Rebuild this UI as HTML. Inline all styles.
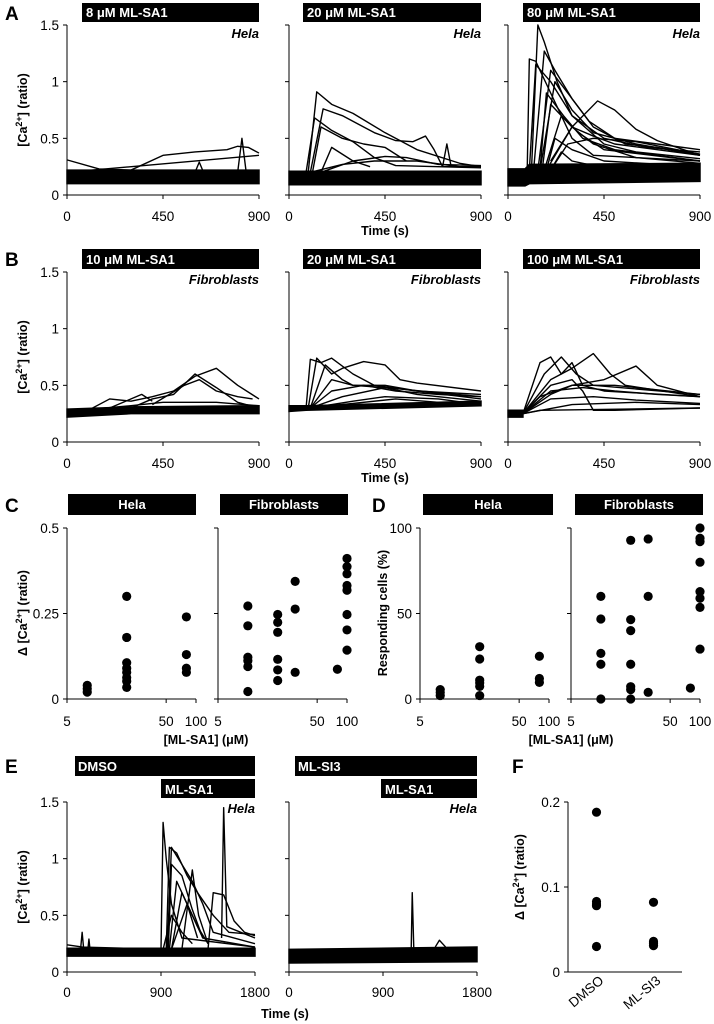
<!DOCTYPE html>
<html><head><meta charset="utf-8"><style>
html,body{margin:0;padding:0;background:#fff;}
svg{display:block;font-family:"Liberation Sans",sans-serif;}
.tk{font-size:13.5px;fill:#000;}
.bt{font-size:13px;font-weight:bold;fill:#fff;}
.it{font-size:13px;font-weight:bold;font-style:italic;fill:#000;}
.tt{font-size:12.5px;font-weight:bold;fill:#000;}
.lt{font-size:19px;font-weight:bold;fill:#000;}
</style></head><body>
<svg id="fig" width="714" height="1024" viewBox="0 0 714 1024" xmlns="http://www.w3.org/2000/svg">
<text class="lt" x="5" y="20">A</text>
<text class="lt" x="5" y="266">B</text>
<text class="lt" x="5" y="512">C</text>
<text class="lt" x="372" y="512">D</text>
<text class="lt" x="5" y="773">E</text>
<text class="lt" x="512" y="773">F</text>
<rect x="82" y="3" width="177" height="19" fill="#000"/>
<text class="bt" x="86" y="17">8 μM ML-SA1</text>
<rect x="303" y="3" width="178" height="19" fill="#000"/>
<text class="bt" x="307" y="17">20 μM ML-SA1</text>
<rect x="523" y="3" width="177" height="19" fill="#000"/>
<text class="bt" x="527" y="17">80 μM ML-SA1</text>
<text class="it" x="259" y="38" text-anchor="end">Hela</text>
<text class="it" x="481" y="38" text-anchor="end">Hela</text>
<text class="it" x="700" y="38" text-anchor="end">Hela</text>
<rect x="82" y="249" width="177" height="20" fill="#000"/>
<text class="bt" x="86" y="264">10 μM ML-SA1</text>
<rect x="303" y="249" width="178" height="20" fill="#000"/>
<text class="bt" x="307" y="264">20 μM ML-SA1</text>
<rect x="523" y="249" width="177" height="20" fill="#000"/>
<text class="bt" x="527" y="264">100 μM ML-SA1</text>
<text class="it" x="259" y="284" text-anchor="end">Fibroblasts</text>
<text class="it" x="481" y="284" text-anchor="end">Fibroblasts</text>
<text class="it" x="700" y="284" text-anchor="end">Fibroblasts</text>
<rect x="68" y="494" width="128" height="21" fill="#000"/>
<text class="bt" x="132" y="509" text-anchor="middle">Hela</text>
<rect x="220" y="494" width="128" height="21" fill="#000"/>
<text class="bt" x="284" y="509" text-anchor="middle">Fibroblasts</text>
<rect x="423" y="494" width="130" height="21" fill="#000"/>
<text class="bt" x="488" y="509" text-anchor="middle">Hela</text>
<rect x="575" y="494" width="128" height="21" fill="#000"/>
<text class="bt" x="639" y="509" text-anchor="middle">Fibroblasts</text>
<rect x="75" y="756" width="180" height="20" fill="#000"/>
<text class="bt" x="78" y="771">DMSO</text>
<rect x="161" y="779" width="94" height="19" fill="#000"/>
<text class="bt" x="165" y="794">ML-SA1</text>
<rect x="295" y="756" width="182" height="20" fill="#000"/>
<text class="bt" x="298" y="771">ML-SI3</text>
<rect x="381" y="779" width="96" height="19" fill="#000"/>
<text class="bt" x="385" y="794">ML-SA1</text>
<text class="it" x="255" y="813" text-anchor="end">Hela</text>
<text class="it" x="477" y="813" text-anchor="end">Hela</text>
<text class="tt" transform="translate(27,110) rotate(-90)" text-anchor="middle">[Ca<tspan font-size="9" dy="-5">2+</tspan><tspan dy="5">] (ratio)</tspan></text>
<text class="tt" transform="translate(27,357) rotate(-90)" text-anchor="middle">[Ca<tspan font-size="9" dy="-5">2+</tspan><tspan dy="5">] (ratio)</tspan></text>
<text class="tt" transform="translate(27,613) rotate(-90)" text-anchor="middle">Δ [Ca<tspan font-size="9" dy="-5">2+</tspan><tspan dy="5">] (ratio)</tspan></text>
<text class="tt" transform="translate(387,613) rotate(-90)" text-anchor="middle">Responding cells (%)</text>
<text class="tt" transform="translate(27,887) rotate(-90)" text-anchor="middle">[Ca<tspan font-size="9" dy="-5">2+</tspan><tspan dy="5">] (ratio)</tspan></text>
<text class="tt" transform="translate(524,877) rotate(-90)" text-anchor="middle">Δ [Ca<tspan font-size="9" dy="-5">2+</tspan><tspan dy="5">] (ratio)</tspan></text>
<text class="tt" x="385" y="235" text-anchor="middle">Time (s)</text>
<text class="tt" x="385" y="482" text-anchor="middle">Time (s)</text>
<text class="tt" x="206" y="744" text-anchor="middle">[ML-SA1] (μM)</text>
<text class="tt" x="571" y="744" text-anchor="middle">[ML-SA1] (μM)</text>
<text class="tt" x="285" y="1018" text-anchor="middle">Time (s)</text>
<g id="plots"></g>
</svg>
<script>
const bandA1 = {t:[0,900], lo:[0.10,0.10], hi:[0.22,0.22]};
const tracesA1 = [
 [[0,0.31],[150,0.23],[300,0.22],[450,0.35],[600,0.38],[750,0.40],[800,0.43],[850,0.42],[900,0.37]],
 [[0,0.2],[900,0.35]],
 [[800,0.2],[820,0.5],[840,0.2]],
 [[600,0.2],[620,0.29],[640,0.2]]
];
const bandA2 = {t:[0,900], lo:[0.09,0.09], hi:[0.21,0.21]};
const tracesA2 = [
 [[90,0.2],[130,0.91],[200,0.8],[300,0.72],[450,0.55],[600,0.4],[800,0.28],[900,0.25]],
 [[100,0.2],[160,0.76],[250,0.7],[400,0.55],[500,0.48],[580,0.47],[640,0.52],[680,0.4],[720,0.25],[900,0.25]],
 [[80,0.2],[120,0.68],[200,0.57],[300,0.47],[400,0.33],[500,0.26],[900,0.24]],
 [[110,0.2],[150,0.6],[250,0.5],[350,0.45],[450,0.42],[550,0.3]],
 [[150,0.2],[200,0.42],[300,0.3],[380,0.25]],
 [[150,0.2],[300,0.3],[450,0.34],[550,0.33],[700,0.27],[900,0.26]],
 [[100,0.2],[250,0.27],[400,0.3],[600,0.3],[800,0.25]],
 [[720,0.25],[740,0.45],[760,0.25]]
];
const bandA3 = {t:[0,80,100,900], lo:[0.08,0.08,0.1,0.12], hi:[0.23,0.23,0.27,0.28]};
const tracesA3 = [
 [[90,0.22],[100,1.2],[130,1.18],[200,0.9],[300,0.5],[400,0.35],[900,0.3]],
 [[110,0.22],[140,1.5],[170,1.35],[230,1.0],[300,0.7],[450,0.45],[600,0.38],[900,0.32]],
 [[120,0.22],[170,1.27],[220,1.1],[300,0.85],[400,0.6],[550,0.45],[700,0.42],[900,0.36]],
 [[100,0.22],[130,1.15],[200,1.0],[300,0.7],[450,0.5],[650,0.42],[900,0.38]],
 [[140,0.22],[200,1.1],[280,0.9],[380,0.65],[500,0.5],[700,0.45],[900,0.4]],
 [[150,0.22],[220,1.0],[300,0.75],[400,0.55],[600,0.45],[900,0.35]],
 [[200,0.3],[300,0.6],[420,0.83],[500,0.75],[600,0.58],[700,0.48],[900,0.35]],
 [[150,0.22],[180,0.9],[260,0.7],[350,0.5],[500,0.4],[900,0.3]],
 [[160,0.22],[200,0.8],[300,0.6],[400,0.45],[600,0.33],[900,0.28]],
 [[170,0.22],[250,0.7],[330,0.55],[450,0.4],[900,0.3]],
 [[180,0.22],[300,0.6],[400,0.52],[500,0.45],[700,0.4],[900,0.35]],
 [[180,0.22],[220,0.5],[300,0.4],[450,0.3],[900,0.25]],
 [[200,0.22],[250,0.38],[300,0.3],[400,0.26]],
 [[200,0.22],[280,0.45],[400,0.5],[600,0.47],[900,0.36]]
];
const bandB1 = {t:[0,300,900], lo:[0.22,0.25,0.25], hi:[0.29,0.31,0.32]};
const tracesB1 = [
 [[0,0.27],[100,0.28],[200,0.38],[300,0.36],[400,0.4],[500,0.45],[600,0.58],[700,0.65],[800,0.5],[900,0.38]],
 [[300,0.3],[400,0.38],[500,0.42],[600,0.6],[700,0.48],[800,0.35],[900,0.3]],
 [[400,0.33],[550,0.5],[620,0.55],[700,0.45],[800,0.4],[870,0.38]],
 [[0,0.27],[300,0.32],[450,0.35],[700,0.35],[900,0.32]],
 [[200,0.3],[350,0.42],[400,0.36]]
];
const bandB2 = {t:[0,80,900], lo:[0.27,0.28,0.32], hi:[0.32,0.32,0.36]};
const tracesB2 = [
 [[80,0.3],[100,0.73],[150,0.7],[200,0.74],[300,0.6],[400,0.5],[600,0.45],[900,0.42]],
 [[90,0.3],[130,0.74],[200,0.6],[250,0.65],[350,0.71],[450,0.68],[520,0.55],[600,0.52],[900,0.45]],
 [[100,0.3],[170,0.68],[250,0.55],[300,0.5],[450,0.48],[900,0.4]],
 [[100,0.3],[200,0.55],[300,0.5],[450,0.5],[600,0.45],[900,0.38]],
 [[100,0.3],[250,0.4],[450,0.48],[600,0.42],[900,0.36]],
 [[100,0.3],[300,0.36],[450,0.4],[700,0.38],[900,0.33]],
 [[80,0.3],[300,0.34],[500,0.38],[900,0.32]],
 [[100,0.3],[200,0.45],[350,0.5],[500,0.45],[700,0.42],[900,0.4]]
];
const bandB3 = {t:[0,70], lo:[0.22,0.22], hi:[0.28,0.28]};
const tracesB3 = [
 [[70,0.25],[150,0.7],[200,0.75],[250,0.6],[300,0.7],[350,0.5],[450,0.45],[900,0.4]],
 [[70,0.25],[170,0.6],[250,0.75],[320,0.6],[400,0.5],[900,0.42]],
 [[70,0.25],[200,0.55],[300,0.65],[400,0.78],[480,0.6],[550,0.5],[900,0.4]],
 [[70,0.25],[200,0.5],[300,0.55],[350,0.45],[400,0.28],[500,0.28],[900,0.3]],
 [[70,0.25],[150,0.4],[300,0.5],[450,0.55],[600,0.67],[700,0.5],[900,0.4]],
 [[70,0.25],[200,0.45],[350,0.48],[500,0.45],[700,0.42],[900,0.4]],
 [[70,0.25],[200,0.38],[400,0.4],[600,0.37],[900,0.34]],
 [[70,0.25],[300,0.33],[600,0.35],[900,0.33]],
 [[70,0.25],[150,0.28],[900,0.3]],
 [[70,0.25],[200,0.42],[300,0.5],[500,0.5],[900,0.42]]
];
const bandE1 = {t:[0,1800], lo:[0.14,0.14], hi:[0.21,0.21]};
const tracesE1 = [
 [[0,0.24],[150,0.22],[900,0.2],[920,1.32],[950,1.0],[1000,0.6],[1100,0.3],[1800,0.22]],
 [[950,0.2],[980,1.1],[1050,1.05],[1150,0.85],[1250,0.7],[1400,0.5],[1550,0.35],[1800,0.33]],
 [[960,0.2],[1000,1.1],[1100,0.95],[1200,0.8],[1300,0.6],[1400,0.35],[1800,0.25]],
 [[970,0.2],[1000,0.95],[1100,0.85],[1200,0.55],[1300,0.3],[1800,0.22]],
 [[980,0.2],[1050,0.8],[1150,0.6],[1250,0.3]],
 [[1000,0.2],[1100,0.7],[1200,0.5],[1300,0.3]],
 [[1000,0.2],[1150,0.6],[1250,0.4],[1350,0.25]],
 [[920,0.2],[1000,0.5],[1100,0.35],[1200,0.25]],
 [[1350,0.2],[1400,0.7],[1500,0.68],[1600,0.45],[1700,0.35],[1800,0.32]],
 [[1480,0.3],[1500,1.45],[1530,0.4],[1800,0.3]],
 [[1100,0.2],[1200,0.9],[1260,0.5],[1350,0.25]],
 [[130,0.2],[145,0.35],[160,0.2]],
 [[200,0.2],[210,0.29],[220,0.2]]
];
const bandE2 = {t:[0,1800], lo:[0.08,0.09], hi:[0.2,0.22]};
const tracesE2 = [
 [[1170,0.2],[1180,0.7],[1195,0.2]],
 [[1400,0.22],[1440,0.28],[1500,0.22]]
];
const helaDoses = [8,8,8,20,20,20,20,20,20,20,20,80,80,80,80];
const helaDeltaCa = [0.04,0.03,0.02,0.30,0.18,0.106,0.09,0.078,0.063,0.052,0.034,0.24,0.13,0.09,0.078];
const fibroDoses = [10,10,10,10,10,10,20,20,20,20,20,20,30,30,30,80,100,100,100,100,100,100,100,100];
const fibroDeltaCa = [0.272,0.214,0.122,0.112,0.095,0.022,0.247,0.224,0.195,0.116,0.085,0.054,0.344,0.263,0.078,0.087,0.411,0.387,0.366,0.332,0.318,0.247,0.202,0.143];
const helaRespDoses = [8,8,8,20,20,20,20,20,20,80,80,80];
const helaResponding = [5.5,3.9,2,30.6,23.4,11,9.4,7.4,2,25,12,9.7];
const fibroRespDoses = [10,10,10,10,10,20,20,20,20,20,20,20,30,30,30,80,100,100,100,100,100,100,100,100];
const fibroResponding = [60,46.8,26.7,20.3,0,92.8,46.4,40,20.3,7.2,5.5,0,93.6,60,3.9,6.4,100,94,92,80,62.8,58.9,53.6,29.2];
const fCategories = ['DMSO','ML-SI3'];
const fGroup = [0,0,0,0,0,1,1,1,1];
const fValues = [0.188,0.083,0.080,0.078,0.030,0.082,0.036,0.034,0.031];
const timeTicks900 = [0,450,900];
const timeTicks1800 = [0,900,1800];
const ratioTicks = [0,0.5,1,1.5];
const ratioTickLabels = ['0','0.5','1','1.5'];
const doseTicks = [5,50,100];
const doseTickLabels = ['5','50','100'];

const NS='http://www.w3.org/2000/svg';
const root=document.getElementById('plots');
function el(tag,attrs){const e=document.createElementNS(NS,tag);for(const k in attrs)e.setAttribute(k,attrs[k]);root.appendChild(e);return e;}

function axes(p,name,yt,ytl,showYLabels,xt,xtl,xlabY){
  const yl=el('line',{x1:p.x0,y1:p.y0,x2:p.x0,y2:p.y1,stroke:'#000','stroke-width':1});
  
  
  const xl=el('line',{x1:p.x0-4,y1:p.y0,x2:p.x1,y2:p.y0,stroke:'#000','stroke-width':1});
  
  
  yt.forEach((v,i)=>{const y=p.sy(v);
    el('line',{x1:p.x0-4,y1:y,x2:p.x0,y2:y,stroke:'#000'});
    if(showYLabels){const t=el('text',{x:p.x0-8,y:y+5,'text-anchor':'end',class:'tk'});t.textContent=ytl[i];
      
      }
  });
  xt.forEach((v,i)=>{const x=p.sx(v);
    el('line',{x1:x,y1:p.y0,x2:x,y2:p.y0+4,stroke:'#000'});
    const t=el('text',{x:x,y:xlabY,'text-anchor':'middle',class:'tk'});t.textContent=xtl[i];
    
    
  });
}
function lin(x0,x1,y0,y1,xmax,ymax){return {x0,x1,y0,y1,sx:v=>x0+v/xmax*(x1-x0),sy:v=>y0-v/ymax*(y0-y1)};}
function logp(x0,x1,y0,y1,ymax){return {x0,x1,y0,y1,sx:v=>x0+Math.log10(v/5)/Math.log10(20)*(x1-x0),sy:v=>y0-v/ymax*(y0-y1)};}

function tracePanel(p,name,band,traces){
  let pts=band.t.map((t,i)=>p.sx(t)+','+p.sy(band.hi[i]));
  for(let i=band.t.length-1;i>=0;i--)pts.push(p.sx(band.t[i])+','+p.sy(band.lo[i]));
  const b=el('polygon',{points:pts.join(' '),fill:'#000',stroke:'#000','stroke-width':1.5});
  
  
  traces.forEach(tr=>{
    const l=el('polyline',{points:tr.map(d=>p.sx(d[0])+','+p.sy(d[1])).join(' '),fill:'none',stroke:'#000','stroke-width':1.4,'stroke-linejoin':'round'});
    
    
  });
}
function dots(p,name,xs,ys){
  xs.forEach((x,i)=>{const c=el('circle',{cx:p.sx(x),cy:p.sy(ys[i]),r:4.6,fill:'#000'});
    
    });
}
const colX=[[67,259],[289,481],[508,700]];
const aB=[bandA1,bandA2,bandA3], aT=[tracesA1,tracesA2,tracesA3];
const bB=[bandB1,bandB2,bandB3], bT=[tracesB1,tracesB2,tracesB3];
colX.forEach((c,i)=>{
  const pa=lin(c[0],c[1],195,25,900,1.5);
  tracePanel(pa,'a'+(i+1),aB[i],aT[i]);
  axes(pa,'a'+(i+1),ratioTicks,ratioTickLabels,i==0,timeTicks900,timeTicks900.map(String),221);
  const pb=lin(c[0],c[1],442,272,900,1.5);
  tracePanel(pb,'b'+(i+1),bB[i],bT[i]);
  axes(pb,'b'+(i+1),ratioTicks,ratioTickLabels,i==0,timeTicks900,timeTicks900.map(String),468);
});
const pc1=logp(67,196,699,528,0.5), pc2=logp(218,347,699,528,0.5);
axes(pc1,'c-hela',[0,0.25,0.5],['0','0.25','0.5'],true,doseTicks,doseTickLabels,726);
axes(pc2,'c-fibro',[0,0.25,0.5],['0','0.25','0.5'],false,doseTicks,doseTickLabels,726);
dots(pc1,'c-hela',helaDoses,helaDeltaCa);
dots(pc2,'c-fibro',fibroDoses,fibroDeltaCa);
const pd1=logp(420,549,699,528,100), pd2=logp(571,700,699,528,100);
axes(pd1,'d-hela',[0,50,100],['0','50','100'],true,doseTicks,doseTickLabels,726);
axes(pd2,'d-fibro',[0,50,100],['0','50','100'],false,doseTicks,doseTickLabels,726);
dots(pd1,'d-hela',helaRespDoses,helaResponding);
dots(pd2,'d-fibro',fibroRespDoses,fibroResponding);
const pe1=lin(67,255,972,802,1800,1.5), pe2=lin(289,477,972,802,1800,1.5);
tracePanel(pe1,'e1',bandE1,tracesE1);
axes(pe1,'e1',ratioTicks,ratioTickLabels,true,timeTicks1800,timeTicks1800.map(String),997);
tracePanel(pe2,'e2',bandE2,tracesE2);
axes(pe2,'e2',ratioTicks,ratioTickLabels,false,timeTicks1800,timeTicks1800.map(String),997);
const pf={x0:568,x1:682,y0:972,y1:802,sx:g=>568+(g+0.5)*57,sy:v=>972-v/0.2*170};
axes(pf,'f',[0,0.1,0.2],['0','0.1','0.2'],true,[],[],0);
fValues.forEach((v,i)=>{const c=el('circle',{cx:pf.sx(fGroup[i]),cy:pf.sy(v),r:4.6,fill:'#000'});
  
  });
fCategories.forEach((c,i)=>{const x=pf.sx(i)+8;
  const t=el('text',{x:x,y:982,'text-anchor':'end',class:'tk',transform:'rotate(-40 '+x+' 982)'});t.textContent=c;
  
  });
</script>
</body></html>
